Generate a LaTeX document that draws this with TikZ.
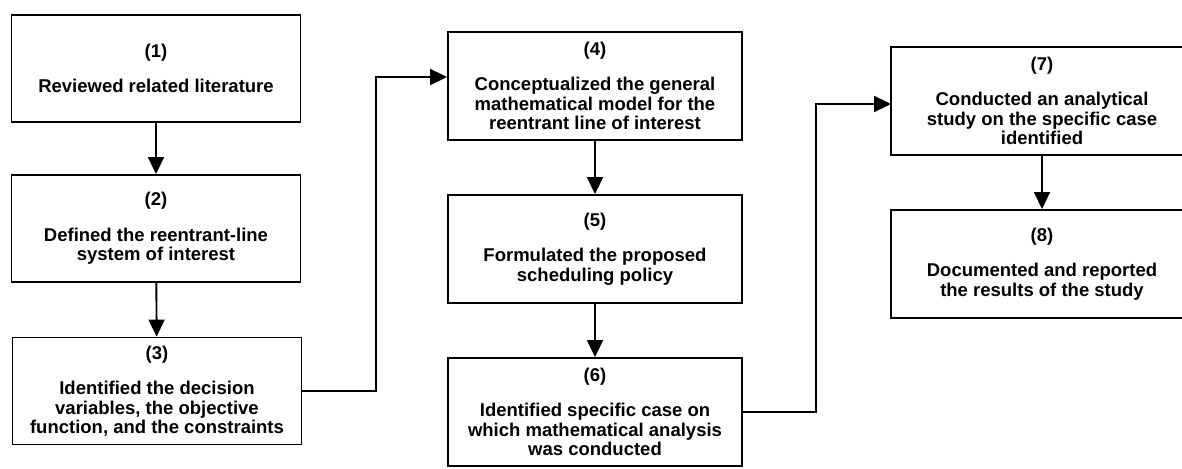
\documentclass[tikz,border=0pt]{standalone}
\usepackage{fontspec}
\setmainfont{Liberation Sans}
\usetikzlibrary{arrows.meta}
\begin{document}
\begin{tikzpicture}[x=1pt,y=-1pt,
  boxline/.style={line width=1.9pt},
  stepbox/.style={boxline,align=center,inner sep=0pt,
    font=\fontsize{18.5}{19.5}\selectfont\bfseries},
  col1/.style={stepbox,draw,minimum width=289pt,minimum height=107pt},
  col2/.style={stepbox,draw,minimum width=294pt,minimum height=108pt},
  col3/.style={stepbox,minimum width=300pt,minimum height=108pt},
  arr/.style={line width=1.9pt,-{Triangle[length=17pt,width=16pt]}}]
\useasboundingbox (0,0) rectangle (1182,468);
\fill[white] (0,0) rectangle (1182,468);

\node[col1] (b1) at (156,68.5) {(1)\\[16pt]Reviewed related literature};
\node[col1] (b2) at (156,228.5) {(2)\\[16pt]Defined the reentrant-line\\system of interest};
\node[col1] (b3) at (157,391) {(3)\\[16pt]Identified the decision\\variables, the objective\\function, and the constraints};

\node[col2] (b4) at (595,86) {(4)\\[16pt]Conceptualized the general\\mathematical model for the\\reentrant line of interest};
\node[col2] (b5) at (595,249) {(5)\\[16pt]Formulated the proposed\\scheduling policy};
\node[col2] (b6) at (595,412) {(6)\\[16pt]Identified specific case on\\which mathematical analysis\\was conducted};

\node[col3] (b7) at (1042,101) {(7)\\[16pt]Conducted an analytical\\study on the specific case\\identified};
\node[col3] (b8) at (1042,264) {(8)\\[16pt]Documented and reported\\the results of the study};
\coordinate (r7a) at (1182,47);
\coordinate (r7b) at (1182,155);
\coordinate (r8a) at (1182,210);
\coordinate (r8b) at (1182,318);
\draw[boxline] (r7a) -- (r7a -| b7.west) -- (r7b -| b7.west) -- (r7b);
\draw[boxline] (r8a) -- (r8a -| b8.west) -- (r8b -| b8.west) -- (r8b);

\coordinate (k1) at (376,77);
\coordinate (k2) at (816,104);

\draw[arr] (b1) -- (b2);
\draw[arr] (b2) -- (b3);
\draw[arr] (b4) -- (b5);
\draw[arr] (b5) -- (b6);
\draw[arr] (b7) -- (b8);
\draw[arr] (b3.east) -| (k1) -- (k1 -| b4.west);
\draw[arr] (b6.east) -| (k2) -- (k2 -| b7.west);
\end{tikzpicture}
\end{document}
